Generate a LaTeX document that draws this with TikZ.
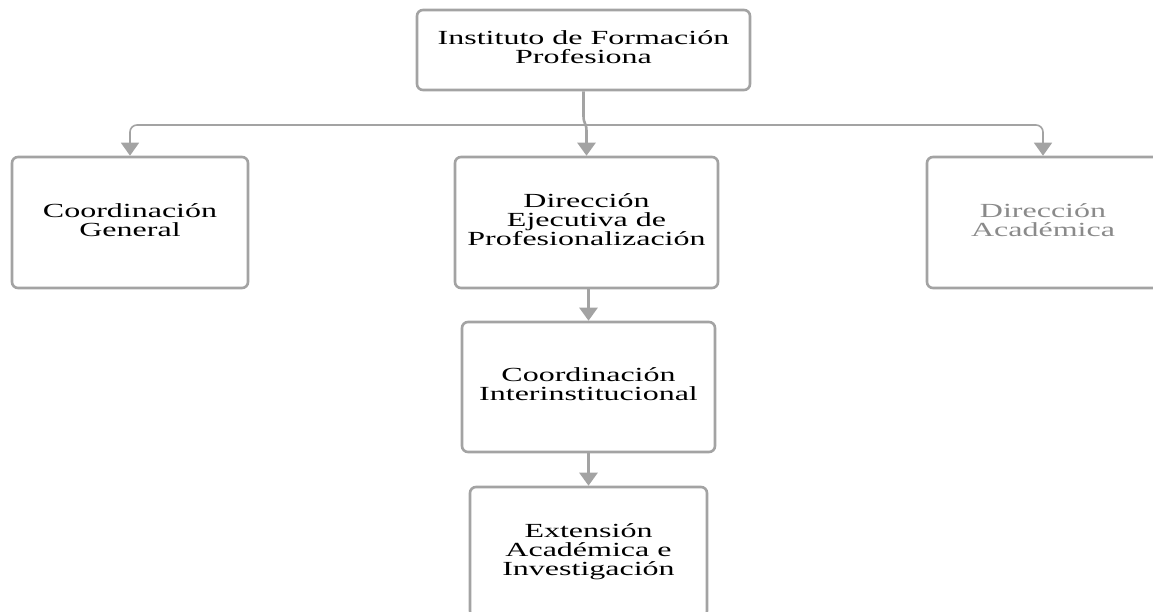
\documentclass[tikz,border=0pt]{standalone}
\usepackage{fontspec}
\usepackage{graphicx}
\setmainfont{Liberation Serif}
\usetikzlibrary{arrows.meta,calc}
\definecolor{boxgray}{HTML}{A3A3A3}
\definecolor{txtgray}{HTML}{8A8A8A}
\newcommand{\wt}[1]{\scalebox{1.6}[1]{\begin{tabular}{@{}c@{}}#1\end{tabular}}}
\tikzset{
  orgbox/.style={draw=boxgray, line width=2.6pt, rounded corners=6pt, fill=white,
    inner sep=0pt, font=\fontsize{20}{17}\selectfont},
  tip/.style={-{Triangle[width=18pt,length=13pt]}},
  hline/.style={draw=boxgray, line width=1.6pt, rounded corners=7pt},
  vline/.style={draw=boxgray, line width=2.6pt}
}
\begin{document}
\begin{tikzpicture}[x=1pt,y=-1pt]
\useasboundingbox (0,0) rectangle (1153,611);
\node[orgbox, minimum width=333pt, minimum height=80pt] (top) at (583.5,50)
  {\wt{Instituto de Formación\\Profesiona}};
\node[orgbox, minimum width=236pt, minimum height=131pt] (cg) at (130,222.5)
  {\wt{Coordinación\\General}};
\node[orgbox, minimum width=263pt, minimum height=131pt] (mid) at (586.5,222.5)
  {\wt{Dirección\\Ejecutiva de\\Profesionalización}};
\node[orgbox, minimum width=232pt, minimum height=131pt, text=txtgray] (da) at (1043,222.5)
  {\wt{Dirección\\Académica}};
\node[orgbox, minimum width=253pt, minimum height=130pt] (ci) at (588.5,387)
  {\wt{Coordinación\\Interinstitucional}};
\node[orgbox, minimum width=237pt, minimum height=130pt] (ext) at (588.5,552)
  {\wt{Extensión\\Académica e\\Investigación}};
\coordinate (hub) at (586.5,125);
\coordinate (bend) at (583.5,116);
\coordinate (jog) at (586.5,131);
\draw[hline, {Triangle[width=18pt,length=13pt]}-{Triangle[width=18pt,length=13pt]}]
  (cg.north) |- (hub) -| (da.north);
\draw[vline, tip] (top.south) -- (bend) .. controls (583.5,124) and (586.5,123) .. (jog) -- (mid.north);
\draw[vline, tip] (ci.north |- mid.south) -- (ci.north);
\draw[vline, tip] (ext.north |- ci.south) -- (ext.north);
\end{tikzpicture}
\end{document}
